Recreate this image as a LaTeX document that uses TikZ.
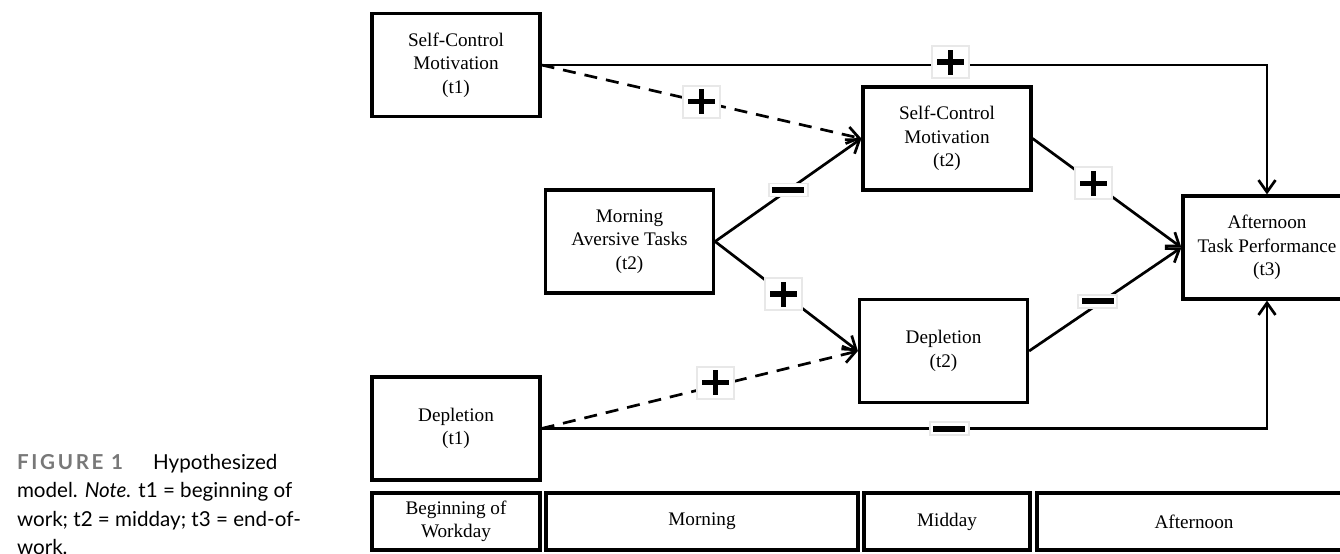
\documentclass[tikz,border=0pt]{standalone}
\usepackage{fontspec}
\setmainfont{Liberation Serif}
\newfontfamily\capfont{Lato}
\newfontfamily\figfont[LetterSpace=13]{Lato}
\usetikzlibrary{arrows.meta}
\definecolor{capgray}{RGB}{120,120,120}

\begin{document}
\begin{tikzpicture}[x=0.5pt, y=-0.5pt, line width=1.35pt,
        every node/.append style={font=\fontsize{9.6}{11.8}\selectfont},
        stage/.style={draw, line width=1.6pt, align=center, minimum width=84pt, minimum height=51.5pt, inner sep=0pt},
        period/.style={draw, line width=1.6pt, align=center, minimum height=28.5pt, inner sep=0pt},
        arr/.style={-{Straight Barb[length=6pt, width=8.5pt]}},
        dasharr/.style={arr, dash pattern=on 6.5pt off 4.5pt},
        sgn/.style={solid, fill=white, draw=black!9, line width=0.9pt, inner sep=0pt},
        possign/.style={sgn, minimum width=18.5pt, minimum height=16pt, path picture={
            \fill[black] ([shift={(-6.75pt,-1.3pt)}]path picture bounding box.center) rectangle ++(13.5pt,2.6pt);
            \fill[black] ([shift={(-1.3pt,-6.25pt)}]path picture bounding box.center) rectangle ++(2.6pt,12.5pt);}},
        negsign/.style={sgn, minimum width=19.5pt, minimum height=6.5pt, path picture={
            \fill[black] ([shift={(-8pt,-1.5pt)}]path picture bounding box.center) rectangle ++(16pt,3pt);}}]
      \useasboundingbox (0,0) rectangle (1340,553);
      \clip (0,0) rectangle (1340,553);
      % caption
      \node (caption) [anchor=base west, align=left, font=\capfont\fontsize{10.3}{14.25}\selectfont] at (9,554.5)
        {{\figfont\bfseries\color{capgray}FIGURE 1}\hspace{15pt}Hypothesized\\
         model. \textit{Note.} t1 = beginning of\\
         work; t2 = midday; t3 = end-of-\\
         work.};
      % variables
      \node (sct1) [stage] at (456,65) {Self-Control\\Motivation\\(t1)};
      \node (dep1) [stage] at (456,428.5) {Depletion\\(t1)};
      \node (mat) [stage] at (629.5,241.5) {Morning\\Aversive Tasks\\(t2)};
      \node (sct2) [stage] at (947,138.5) {Self-Control\\Motivation\\(t2)};
      \node (dep2) [stage] at (943.5,351) {Depletion\\(t2)};
      \node (aft) [stage] at (1267,247.5) {Afternoon\\Task Performance\\(t3)};
      % time line
      \node (begin) [period, minimum width=84pt] at (456,521.5) {Beginning of\\Workday};
      \node (morning) [period, minimum width=156pt] at (702,521.5) {Morning};
      \node (midday) [period, minimum width=83pt] at (947,521.5) {Midday};
      \node (afternoon) [period, minimum width=157pt] at (1194,521.5) {Afternoon};
      % paths
      \draw[arr] (sct1.east) -| node[possign, pos=0.282, yshift=1.5pt] {} (aft.north);
      \draw[dasharr] (sct1.east) -- node[possign, pos=0.5] {} (sct2.west);
      \draw[arr] (mat.east) -- node[negsign, pos=0.5] {} (sct2.west);
      \draw[arr] (mat.east) -- node[possign, pos=0.48] {} (dep2.west);
      \draw[dasharr] (dep1.east) -- node[possign, pos=0.55, yshift=1.5pt] {} (dep2.west);
      \draw[arr] (dep1.east) -| node[negsign, pos=0.281] {} (aft.south);
      \draw[arr] (sct2.east) -- node[possign, pos=0.41] {} (aft.west);
      \draw[arr] (dep2.east) -- node[negsign, pos=0.45, yshift=1.5pt] {} (aft.west);
\end{tikzpicture}
\end{document}
